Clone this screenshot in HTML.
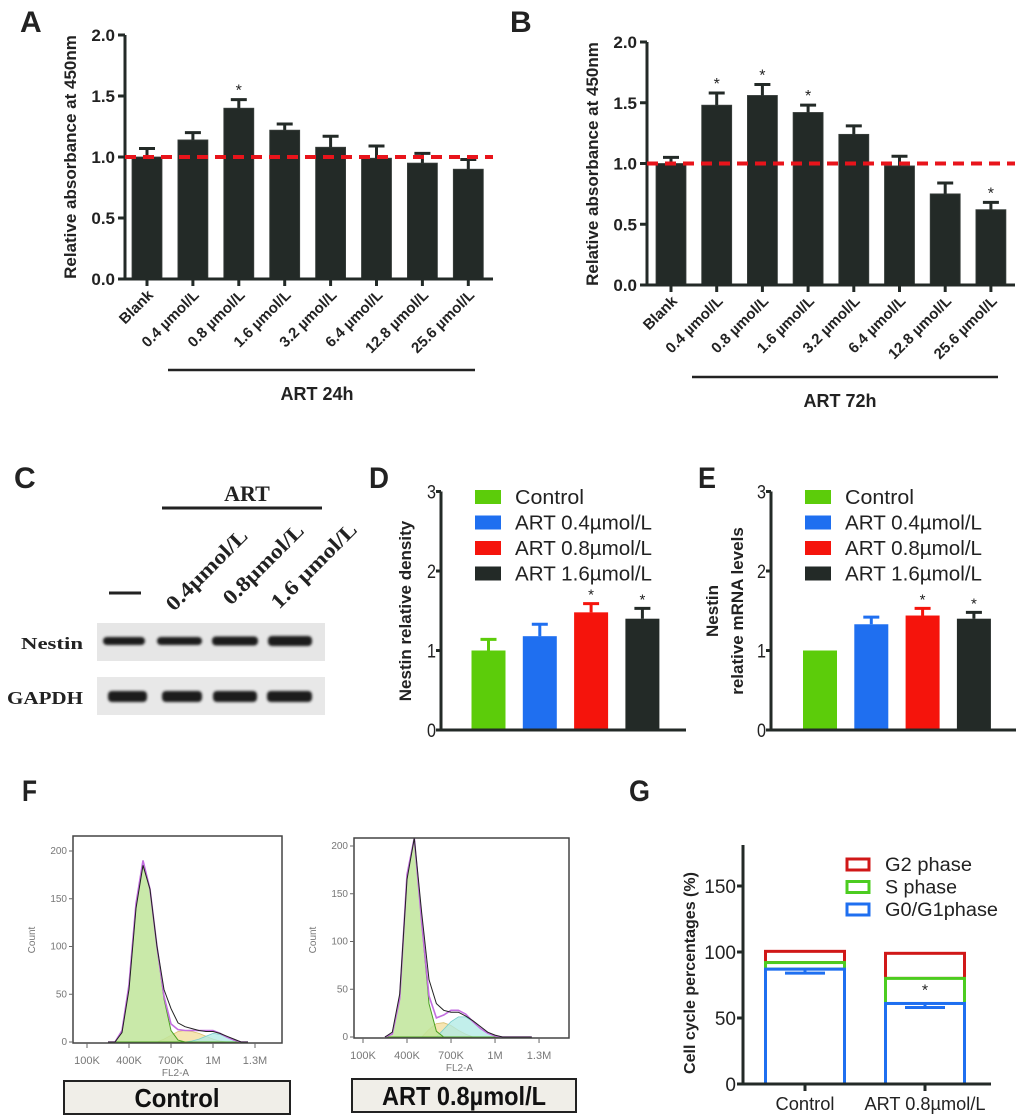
<!DOCTYPE html>
<html><head><meta charset="utf-8">
<style>
html,body{margin:0;padding:0;background:#fff;}
svg{display:block;}
</style></head>
<body>
<svg id="fig" width="1020" height="1119" viewBox="0 0 1020 1119" xmlns="http://www.w3.org/2000/svg" font-family="'Liberation Sans', Arial, sans-serif">
<defs><filter id="blur" x="-20%" y="-100%" width="140%" height="300%"><feGaussianBlur stdDeviation="1.4"/></filter></defs>
</svg>
<script>
// ---------- DATA ----------
const abCats = ["Blank","0.4 \u00b5mol/L","0.8 \u00b5mol/L","1.6 \u00b5mol/L","3.2 \u00b5mol/L","6.4 \u00b5mol/L","12.8 \u00b5mol/L","25.6 \u00b5mol/L"];
const abTicks = [0,0.5,1.0,1.5,2.0];
const aMeans = [1.00,1.14,1.40,1.22,1.08,0.99,0.95,0.90];
const aErr   = [0.07,0.06,0.07,0.05,0.09,0.10,0.08,0.08];
const aSig   = [false,false,true,false,false,false,false,false];
const bMeans = [1.00,1.48,1.56,1.42,1.24,0.98,0.75,0.62];
const bErr   = [0.05,0.10,0.09,0.06,0.07,0.08,0.09,0.06];
const bSig   = [false,true,true,true,false,false,false,true];

const deCats = ["Control","ART 0.4\u00b5mol/L","ART 0.8\u00b5mol/L","ART 1.6\u00b5mol/L"];
const deTicks = [0,1,2,3];
const dMeans = [1.00,1.18,1.48,1.40];
const dErr   = [0.14,0.15,0.11,0.13];
const dSig   = [false,false,true,true];
const eMeans = [1.00,1.33,1.44,1.40];
const eErr   = [0.00,0.09,0.09,0.08];
const eSig   = [false,false,true,true];

const gCats = ["Control","ART 0.8\u00b5mol/L"];
const gTicks = [0,50,100,150];
const gG1 = [87,61];
const gG1Err = [3,3];
const gS = [5,19];
const gG2 = [8.5,19];
const gSig = [false,true];

const histBins = [250,300,350,400,450,500,550,600,650,700,750,800,850,900,950,1000,1050,1100,1150,1200,1250];
const fLeftData = [0,0,10,55,140,185,160,100,55,35,20,16,14,12,11,11,9,6,3,0,0];
const fLeftG1   = [0,0,12,60,145,190,160,100,45,12,2,0,0,0,0,0,0,0,0,0,0];
const fLeftS    = [0,0,0,0,0,0,0,0,3,7,11,12,11,9,6,3,1,0,0,0,0];
const fLeftG2   = [0,0,0,0,0,0,0,0,0,0,0,0,1,3,6,9,8,5,2,0,0];
const fRightData= [0,5,45,165,210,130,60,35,28,26,26,22,17,11,5,2,0,0,0,0,0];
const fRightG1  = [0,3,40,170,215,120,35,6,0,0,0,0,0,0,0,0,0,0,0,0,0];
const fRightS   = [0,0,0,0,0,0,8,14,15,12,7,3,0,0,0,0,0,0,0,0,0];
const fRightG2  = [0,0,0,0,0,0,0,0,8,16,21,21,16,9,4,1,0,0,0,0,0];
const histYTicks = [0,50,100,150,200];
const histXTicks = ["100K","400K","700K","1M","1.3M"];
const histXVals = [100,400,700,1000,1300];

// ---------- HELPERS ----------
const NS = "http://www.w3.org/2000/svg";
const svg = document.getElementById("fig");
function el(tag, attrs, parent){
  const e = document.createElementNS(NS, tag);
  for (const k in attrs) e.setAttribute(k, attrs[k]);
  (parent||svg).appendChild(e);
  return e;
}
function txt(str, attrs, parent){
  const t = el("text", attrs, parent);
  t.textContent = str;
  return t;
}
function grp(name){
  const g = el("g", {});
  
  
  return g;
}
const narrow = "'Liberation Sans Narrow','Liberation Sans',sans-serif";
const serif = "'Liberation Serif',serif";

// ---------- PANEL LETTERS ----------
const letters = [["A",20,32,"'Liberation Sans',sans-serif",30,0],["B",510,32,"'Liberation Sans',sans-serif",30,0],["C",14,488,"'Liberation Sans',sans-serif",30,0],["D",369,488,narrow,30,20],["E",698,488,narrow,30,18],["F",22,801,narrow,30,15],["G",629,801,narrow,30,21]];
letters.forEach(l=>{
  const a = {x:l[1], y:l[2], "font-size":l[4], "font-weight":"bold", fill:"#222", "font-family":l[3]};
  if (l[5]) { a.textLength = l[5]; a.lengthAdjust = "spacingAndGlyphs"; }
  const t = txt(l[0], a);
  
  
});

// ---------- PANELS A / B ----------
function absPanel(id, means, errs, sig, cfg){
  const g = grp("panel-" + id);
  const yS = v => cfg.y0 - (v/2.0)*(cfg.y0-cfg.yTop);
  const xC = i => cfg.c0 + i*cfg.step;
  const bw = 30;
  means.forEach((m,i)=>{
    const r = el("rect", {x:xC(i)-bw/2, y:yS(m), width:bw, height:cfg.y0-yS(m), fill:"#232a27", stroke:"#3a403d", "stroke-width":0.8}, g);
    
    
    const eb = el("path", {d:`M${xC(i)},${yS(m)} V${yS(m+errs[i])} M${xC(i)-8},${yS(m+errs[i])} H${xC(i)+8}`, stroke:"#232a27", "stroke-width":3, fill:"none"}, g);
    
    
    if (sig[i]) {
      const s = txt("*", {x:xC(i), y:yS(m+errs[i])-4, "text-anchor":"middle", "font-size":16, fill:"#222"}, g);
      
      
    }
    const tk = el("line", {x1:xC(i), x2:xC(i), y1:cfg.y0, y2:cfg.y0+7, stroke:"#232a27", "stroke-width":3}, g);
    
    
    const lab = txt(abCats[i], {x:xC(i)+7, y:cfg.y0+17, "text-anchor":"end", "font-size":15, "font-weight":"bold", fill:"#222", transform:`rotate(-45 ${xC(i)+7} ${cfg.y0+17})`}, g);
    
    
  });
  const ax = el("path", {d:`M${cfg.ax},${cfg.yTop} V${cfg.y0} H${cfg.axEnd}`, stroke:"#232a27", "stroke-width":3, fill:"none"}, g);
  
  
  abTicks.forEach(v=>{
    const t = el("line", {x1:cfg.ax-7, x2:cfg.ax, y1:yS(v), y2:yS(v), stroke:"#232a27", "stroke-width":3}, g);
    
    
    const l = txt(v.toFixed(1), {x:cfg.ax-10, y:yS(v)+6, "text-anchor":"end", "font-size":17, "font-weight":"bold", fill:"#222"}, g);
    
    
  });
  const ref = el("line", {x1:cfg.ax, x2:cfg.axEnd, y1:yS(1.0), y2:yS(1.0), stroke:"#e8141b", "stroke-width":4, "stroke-dasharray":"11,7"}, g);
  
  
  const yl = txt("Relative absorbance at 450nm", {x:cfg.ylx, y:cfg.yly, "text-anchor":"middle", "font-size":17, "font-weight":"bold", fill:"#222", transform:`rotate(-90 ${cfg.ylx} ${cfg.yly})`}, g);
  
  
  const br = el("line", {x1:cfg.brX1, x2:cfg.brX2, y1:cfg.brY, y2:cfg.brY, stroke:"#222", "stroke-width":2.5}, g);
  
  
  const gt = txt(cfg.title, {x:cfg.titleX, y:cfg.brY+30, "text-anchor":"middle", "font-size":18, "font-weight":"bold", fill:"#222"}, g);
  
  
}
absPanel("a", aMeans, aErr, aSig, {y0:279, yTop:35, c0:147, step:45.9, ax:125, axEnd:493, ylx:76, yly:157, brX1:168, brX2:475, brY:370, title:"ART 24h", titleX:317});
absPanel("b", bMeans, bErr, bSig, {y0:285, yTop:42, c0:671, step:45.7, ax:647, axEnd:1015, ylx:598, yly:164, brX1:692, brX2:998, brY:377, title:"ART 72h", titleX:840});

// ---------- PANEL C (western blot) ----------
(function(){
  const g = grp("panel-c-western-blot");
  const a = txt("ART", {x:247, y:501, "text-anchor":"middle", "font-size":22, "font-weight":"bold", "font-family":serif, fill:"#222"}, g);
  
  
  const l = el("line", {x1:162, x2:322, y1:508, y2:508, stroke:"#222", "stroke-width":3}, g);
  
  
  const d = el("line", {x1:109, x2:141, y1:593, y2:593, stroke:"#222", "stroke-width":3}, g);
  
  
  [["0.4\u00b5mol/L",174,612,106],["0.8\u00b5mol/L",231,606,105],["1.6 \u00b5mol/L",279,610,112]].forEach(c=>{
    const t = txt(c[0], {x:c[1], y:c[2], "font-size":21, "font-weight":"bold", "font-family":serif, fill:"#222", textLength:c[3], lengthAdjust:"spacingAndGlyphs", transform:`rotate(-45 ${c[1]} ${c[2]})`}, g);
    
    
  });
  const n = txt("Nestin", {x:21, y:649, "font-size":17, "font-weight":"bold", "font-family":serif, fill:"#222", textLength:62, lengthAdjust:"spacingAndGlyphs"}, g);
  
  
  const gp = txt("GAPDH", {x:7, y:704, "font-size":18, "font-weight":"bold", "font-family":serif, fill:"#222", textLength:76, lengthAdjust:"spacingAndGlyphs"}, g);
  
  
  const b1 = el("rect", {x:97, y:623, width:228, height:38, fill:"#e6e6e6"}, g);
  
  
  const b2 = el("rect", {x:97, y:677, width:228, height:38, fill:"#e8e8e8"}, g);
  
  
  [[103,145,8],[157,202,8],[212,258,9],[268,312,10]].forEach(b=>{
    const e = el("rect", {x:b[0], y:641-b[2]/2, width:b[1]-b[0], height:b[2], rx:4, fill:"#1c1c1c", filter:"url(#blur)"}, g);
    
    
  });
  [[108,147],[162,202],[213,257],[267,312]].forEach(b=>{
    const e = el("rect", {x:b[0], y:691, width:b[1]-b[0], height:11, rx:4, fill:"#1a1a1a", filter:"url(#blur)"}, g);
    
    
  });
})();

// ---------- PANELS D / E ----------
const deColors = ["#5ccc0a","#1f6ff0","#f5140c","#232a27"];
const legendW = [69,137,137,137];
function dePanel(id, means, errs, sig, cfg){
  const g = grp("panel-" + id);
  const y0 = 730, unit = 79.5;
  const yS = v => y0 - v*unit;
  const xC = i => cfg.c0 + i*51.3;
  const bw = 34;
  means.forEach((m,i)=>{
    const r = el("rect", {x:xC(i)-bw/2, y:yS(m), width:bw, height:y0-yS(m), fill:deColors[i]}, g);
    
    
    if (errs[i] > 0) {
      const eb = el("path", {d:`M${xC(i)},${yS(m)} V${yS(m+errs[i])} M${xC(i)-8},${yS(m+errs[i])} H${xC(i)+8}`, stroke:deColors[i], "stroke-width":3, fill:"none"}, g);
      
      
    }
    if (sig[i]) {
      const s = txt("*", {x:xC(i), y:yS(m+errs[i])-4, "text-anchor":"middle", "font-size":15, fill:"#222"}, g);
      
      
    }
    const sw = el("rect", {x:cfg.lx, y:cfg.ly + i*25.5 - 7, width:26, height:14, fill:deColors[i]}, g);
    
    
    const lt = txt(deCats[i], {x:cfg.lx+40, y:cfg.ly + i*25.5 + 7, "font-size":20, "font-family":narrow, fill:"#222", textLength:legendW[i], lengthAdjust:"spacingAndGlyphs"}, g);
    
    
  });
  const ax = el("path", {d:`M${cfg.ax},${yS(3)} V${y0} H${cfg.axEnd}`, stroke:"#232a27", "stroke-width":3, fill:"none"}, g);
  
  
  deTicks.forEach(v=>{
    const t = el("line", {x1:cfg.ax-5, x2:cfg.ax, y1:yS(v), y2:yS(v), stroke:"#232a27", "stroke-width":3}, g);
    
    
    const l = txt(String(v), {x:cfg.ax-5, y:yS(v)+7, "text-anchor":"end", "font-size":19, "font-family":narrow, fill:"#222", textLength:9, lengthAdjust:"spacingAndGlyphs"}, g);
    
    
  });
  cfg.ylabels.forEach(yl=>{
    const t = txt(yl[0], {x:yl[1], y:yl[2], "text-anchor":"middle", "font-size":17, "font-weight":"bold", fill:"#222", transform:`rotate(-90 ${yl[1]} ${yl[2]})`}, g);
    
    
  });
}
dePanel("d", dMeans, dErr, dSig, {c0:488.5, ax:441, axEnd:686, lx:475, ly:497, ylabels:[["Nestin relative density",411,611]]});
dePanel("e", eMeans, eErr, eSig, {c0:820, ax:771, axEnd:1016, lx:805, ly:497, ylabels:[["Nestin",718,611],["relative mRNA levels",743,611]]});

// ---------- PANEL F (histograms) ----------
function histPanel(id, data, g1, sPh, g2, cfg){
  const g = grp("histogram-" + id);
  const xS = k => cfg.x100 + (k-100)*cfg.pxK;
  const yS = v => Math.max(cfg.top, cfg.y0 - v*0.955);
  const pts = arr => histBins.map((k,i)=>xS(k).toFixed(1)+","+yS(arr[i]).toFixed(1)).join(" ");
  const area = arr => "M" + xS(histBins[0]) + "," + cfg.y0 + " L" + pts(arr) + " L" + xS(histBins[histBins.length-1]) + "," + cfg.y0 + "Z";
  const f1 = el("path", {d:area(sPh), fill:"#f3dc9a", "fill-opacity":0.75, stroke:"#d8c070", "stroke-width":0.8}, g);
  
  
  const f2 = el("path", {d:area(g2), fill:"#aeeae4", "fill-opacity":0.75, stroke:"#7cc", "stroke-width":0.8}, g);
  
  
  const f0 = el("path", {d:area(g1), fill:"#bfe59a", "fill-opacity":0.85, stroke:"#4aa020", "stroke-width":1}, g);
  
  
  const sum = histBins.map((k,i)=>g1[i]+sPh[i]+g2[i]);
  const fit = el("polyline", {points:pts(sum), fill:"none", stroke:"#c36ee0", "stroke-width":1.6}, g);
  
  
  const dl = el("polyline", {points:pts(data), fill:"none", stroke:"#222", "stroke-width":1}, g);
  
  
  const box = el("rect", {x:cfg.bx, y:cfg.top, width:cfg.bw, height:cfg.y0-cfg.top+1, fill:"none", stroke:"#444", "stroke-width":1.5}, g);
  
  
  histYTicks.forEach(v=>{
    const t = el("line", {x1:cfg.bx-4, x2:cfg.bx, y1:cfg.y0-v*0.955, y2:cfg.y0-v*0.955, stroke:"#666", "stroke-width":1}, g);
    
    
    const l = txt(String(v), {x:cfg.bx-6, y:cfg.y0-v*0.955+3, "text-anchor":"end", "font-size":10, "font-family":narrow, fill:"#777"}, g);
    
    
  });
  histXVals.forEach((k,i)=>{
    const t = el("line", {x1:xS(k), x2:xS(k), y1:cfg.y0+1, y2:cfg.y0+6, stroke:"#666", "stroke-width":1}, g);
    
    
    const l = txt(histXTicks[i], {x:xS(k), y:cfg.y0+22, "text-anchor":"middle", "font-size":11, "font-family":narrow, fill:"#777"}, g);
    
    
  });
  const xl = txt("FL2-A", {x:cfg.bx+cfg.bw*0.5-2, y:cfg.y0+34, "text-anchor":"middle", "font-size":10, "font-family":narrow, fill:"#777"}, g);
  
  
  const yl = txt("Count", {x:cfg.bx-38, y:940, "text-anchor":"middle", "font-size":10, fill:"#777", transform:`rotate(-90 ${cfg.bx-38} 940)`}, g);
  
  
  const cb = el("rect", {x:cfg.cx, y:cfg.cy, width:cfg.cw, height:33, fill:"#f0eee8", stroke:"#222", "stroke-width":2}, g);
  
  
  const ct = txt(cfg.cap, {x:cfg.cx+cfg.cw/2, y:cfg.cy+26, "text-anchor":"middle", "font-size":26, "font-weight":"bold", "font-family":narrow, fill:"#111", textLength:cfg.capW, lengthAdjust:"spacingAndGlyphs"}, g);
  
  
}
histPanel("control", fLeftData, fLeftG1, fLeftS, fLeftG2, {x100:87, pxK:0.14, y0:1042, top:836, bx:73, bw:209, cx:64, cy:1081, cw:226, cap:"Control", capW:85});
histPanel("art", fRightData, fRightG1, fRightS, fRightG2, {x100:363, pxK:0.1467, y0:1037, top:838, bx:354, bw:215, cx:352, cy:1079, cw:224, cap:"ART 0.8\u00b5mol/L", capW:164});

// ---------- PANEL G (stacked cell cycle) ----------
(function(){
  const g = grp("panel-g");
  const y0 = 1084, unit = (1084-952)/100;
  const yS = v => y0 - v*unit;
  const centers = [805, 925];
  const bw = 79;
  const cols = {g1:"#1f6ff0", s:"#4ccc20", g2:"#d01818"};
  gCats.forEach((c,i)=>{
    const x = centers[i]-bw/2;
    const top1 = gG1[i], top2 = gG1[i]+gS[i], top3 = gG1[i]+gS[i]+gG2[i];
    const r3 = el("rect", {x:x, y:yS(top3), width:bw, height:yS(top2)-yS(top3), fill:"#fff", stroke:cols.g2, "stroke-width":3}, g);
    
    
    const r2 = el("rect", {x:x, y:yS(top2), width:bw, height:yS(top1)-yS(top2), fill:"#fff", stroke:cols.s, "stroke-width":3}, g);
    
    
    const r1 = el("rect", {x:x, y:yS(top1), width:bw, height:y0-yS(top1), fill:"#fff", stroke:cols.g1, "stroke-width":3}, g);
    
    
    const eb = el("path", {d:`M${centers[i]},${yS(top1)} V${yS(top1-gG1Err[i])} M${centers[i]-20},${yS(top1-gG1Err[i])} H${centers[i]+20}`, stroke:cols.g1, "stroke-width":3, fill:"none"}, g);
    
    
    if (gSig[i]) {
      const s = txt("*", {x:centers[i], y:yS(top1)-8, "text-anchor":"middle", "font-size":16, fill:"#222"}, g);
      
      
    }
    const tk = el("line", {x1:centers[i], x2:centers[i], y1:y0, y2:y0+7, stroke:"#232a27", "stroke-width":3}, g);
    
    
    const lab = txt(c, {x:centers[i], y:1110, "text-anchor":"middle", "font-size":18, "font-family":narrow, fill:"#222", textLength:i===0?59:121, lengthAdjust:"spacingAndGlyphs"}, g);
    
    
  });
  const ax = el("path", {d:`M743,845 V${y0} H991`, stroke:"#232a27", "stroke-width":3, fill:"none"}, g);
  
  
  gTicks.forEach(v=>{
    const t = el("line", {x1:737, x2:743, y1:yS(v), y2:yS(v), stroke:"#232a27", "stroke-width":3}, g);
    
    
    const l = txt(String(v), {x:736, y:yS(v)+7, "text-anchor":"end", "font-size":19, "font-family":narrow, fill:"#222"}, g);
    
    
  });
  const yl = txt("Cell cycle percentages (%)", {x:695, y:973, "text-anchor":"middle", "font-size":16, "font-weight":"bold", fill:"#222", transform:"rotate(-90 695 973)"}, g);
  
  
  [["G2 phase",cols.g2,87],["S phase",cols.s,72],["G0/G1phase",cols.g1,113]].forEach((e,i)=>{
    const sw = el("rect", {x:847, y:859+i*22.5, width:22, height:11, fill:"#fff", stroke:e[1], "stroke-width":3}, g);
    
    
    const t = txt(e[0], {x:885, y:871+i*22.5, "font-size":19, fill:"#222", textLength:e[2], lengthAdjust:"spacingAndGlyphs"}, g);
    
    
  });
})();
</script>
</body></html>
